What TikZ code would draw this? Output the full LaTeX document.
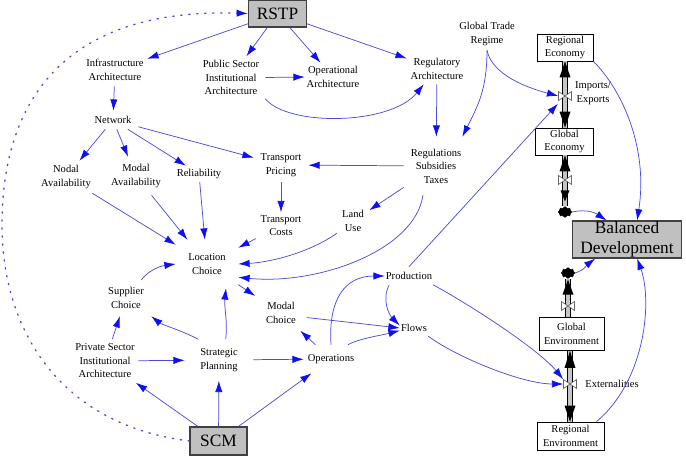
\documentclass[tikz,border=0pt]{standalone}
\usepackage{fontspec}
\setmainfont{Liberation Serif}
\usetikzlibrary{arrows.meta,calc,shapes.symbols}
\definecolor{lnblue}{RGB}{75,75,225}
\definecolor{tipblue}{RGB}{15,15,245}
\definecolor{boxgray}{RGB}{192,192,192}
\newcommand\txtfont{\fontsize{7.9pt}{10.1pt}\selectfont}
\newcommand\bigfont{\fontsize{13pt}{15pt}\selectfont}
\newcommand\drawvalve[1]{\draw[black!60,fill=white,line width=0.5pt] ($(#1)+(-6.5,-4.5)$) -- ($(#1)+(6.5,4.5)$) -- ($(#1)+(6.5,-4.5)$) -- ($(#1)+(-6.5,4.5)$) -- cycle;}
\begin{document}
\begin{tikzpicture}[x=0.75pt,y=-0.75pt,
  txt/.style={align=center,inner sep=0pt,font=\txtfont},
  arr/.style={draw=lnblue,line width=0.55pt,-{Latex[length=8.5pt,width=5.5pt,color=tipblue]}},
  stockbox/.style={draw=black,line width=0.6pt,fill=white,align=center,inner sep=0pt,font=\txtfont},
  bigbox/.style={draw=black!75,line width=0.8pt,fill=boxgray,align=center,inner sep=0pt,font=\bigfont},
  pipe/.style={draw=black,line width=0.6pt,double=gray!45,double distance=3pt},
  valvenode/.style={inner sep=0pt,minimum width=9.75pt,minimum height=6.75pt},
  cloudnode/.style={cloud,cloud puffs=8,fill=black,draw=black,minimum width=10pt,minimum height=8pt,inner sep=0pt}
]
\fill[white] (0,0) rectangle (686,460);
\useasboundingbox (0,0) rectangle (686,460);

% big boxes
\node[bigbox,minimum width=43.5pt,minimum height=20.25pt] (rstp) at (277.5,13.5) {RSTP};
\node[bigbox,minimum width=42.75pt,minimum height=21pt] (scm) at (218.5,441) {SCM};
\node[bigbox,minimum width=81.75pt,minimum height=27.75pt] (bal) at (627,239.5) {Balanced\\Development};

% stocks
\node[stockbox,minimum width=42pt,minimum height=20.25pt] (regecon) at (565,47.5) {Regional\\Economy};
\node[stockbox,minimum width=43.5pt,minimum height=20.25pt] (globecon) at (564.5,141.5) {Global\\Economy};
\node[stockbox,minimum width=48.75pt,minimum height=24.75pt] (globenv) at (571.5,334) {Global\\Environment};
\node[stockbox,minimum width=50.25pt,minimum height=21pt] (regenv) at (570.5,436) {Regional\\Environment};

% valves and clouds
\node[valvenode] (vimp) at (565,96) {};
\node[valvenode] (vge) at (565,180) {};
\node[valvenode] (vgenv) at (568,306) {};
\node[valvenode] (vext) at (570,384) {};
\node[cloudnode] (cl1) at (565,212) {};
\node[cloudnode] (cl2) at (568,273) {};

% text variables
\node[txt,minimum width=48pt,minimum height=24pt] (infra) at (115,70) {Infrastructure\\Architecture};
\node[txt,minimum width=51pt,minimum height=31.5pt] (pubsec) at (231,77.5) {Public Sector\\Institutional\\Architecture};
\node[txt,minimum width=42pt,minimum height=21pt] (oparch) at (333,77) {Operational\\Architecture};
\node[txt,minimum width=45pt,minimum height=22.5pt] (regarch) at (437,69) {Regulatory\\Architecture};
\node[txt,minimum width=45pt,minimum height=24pt] (gtr) at (487,34) {Global Trade\\Regime};
\node[txt,minimum width=37.5pt,minimum height=13.5pt] (network) at (113,120) {Network};
\node[txt,minimum width=49.5pt,minimum height=24pt] (nodal) at (66,177) {Nodal\\Availability};
\node[txt,minimum width=45pt,minimum height=28.5pt] (modalav) at (136,176) {Modal\\Availability};
\node[txt,minimum width=39pt,minimum height=12pt] (rel) at (199,174) {Reliability};
\node[txt,minimum width=40.5pt,minimum height=25.5pt] (tpricing) at (281,165) {Transport\\Pricing};
\node[txt,minimum width=48pt,minimum height=43.5pt] (regs) at (436,166) {Regulations\\Subsidies\\Taxes};
\node[txt,minimum width=37.5pt,minimum height=19.5pt] (tcosts) at (281,225.5) {Transport\\Costs};
\node[txt,minimum width=24pt,minimum height=18pt] (land) at (353,221) {Land\\Use};
\node[txt,minimum width=46.5pt,minimum height=36pt] (loc) at (207,264) {Location\\Choice};
\node[txt,minimum width=37.5pt,minimum height=27pt] (supp) at (126,298) {Supplier\\Choice};
\node[txt,minimum width=38.25pt,minimum height=26.25pt] (modal) at (281,313) {Modal\\Choice};
\node[txt,minimum width=36pt,minimum height=13.5pt] (prod) at (409,276) {Production};
\node[txt,minimum width=21pt,minimum height=15pt] (flows) at (414,328) {Flows};
\node[txt,minimum width=49.5pt,minimum height=32.25pt] (priv) at (105,361) {Private Sector\\Institutional\\Architecture};
\node[txt,minimum width=51pt,minimum height=30.75pt] (strat) at (219,360) {Strategic\\Planning};
\node[txt,minimum width=40.5pt,minimum height=21pt] (ops) at (331,359) {Operations};
\node[txt] (impexp) at (593,93) {Imports/\\Exports};
\node[txt] (extlab) at (612,384) {Externalities};

% pipes
\draw[pipe] (regecon.south -| vimp) -- (globecon.north -| vimp);
\draw[pipe] (globecon.south -| vge) -- (cl1.north);
\draw[pipe] (cl2.south) -- (cl2.south |- globenv.north);
\draw[pipe] (vext |- globenv.south) -- (vext |- regenv.north);
\fill (regecon.south -| vimp) -- ++(-5.5,16) -- ++(11,0) -- cycle;
\fill (globecon.north -| vimp) -- ++(-5.5,-16) -- ++(11,0) -- cycle;
\fill (globecon.south -| vge) -- ++(-5.5,16) -- ++(11,0) -- cycle;
\fill ($(cl1.north)+(0,-5)$) -- ++(-4.5,-11) -- ++(9,0) -- cycle;
\fill ($(cl2.south)+(0,1)$) -- ++(-5.5,15) -- ++(11,0) -- cycle;
\fill (vext |- globenv.south) -- ++(-5.5,17) -- ++(11,0) -- cycle;
\fill (vext |- regenv.north) -- ++(-5.5,-16) -- ++(11,0) -- cycle;
\drawvalve{vimp}
\drawvalve{vge}
\drawvalve{vgenv}
\drawvalve{vext}

% connectors
\draw[arr] (rstp) -- (infra);
\draw[arr] (rstp) -- (pubsec);
\draw[arr] (rstp) -- (oparch);
\draw[arr] (rstp) -- (regarch);
\draw[arr] (pubsec.east) -- (oparch.west);
\draw[arr] (pubsec.south east) .. controls +(23,28) and +(-33,41) .. (regarch.229);
\draw[arr] (infra) -- (network);
\draw[arr] (network) -- (nodal);
\draw[arr] (network) -- (modalav);
\draw[arr] (network) -- (rel);
\draw[arr] (network) -- (tpricing);
\draw[arr] (regarch) -- (regs);
\draw[arr] (gtr.south) .. controls +(0,40) and +(15,-30) .. (regs.48);
\draw[arr] (gtr.south) .. controls +(5,25) and +(-30,-8) .. (vimp.west);
\draw[arr] (regs) -- (tpricing);
\draw[arr] (regs) -- (land);
\draw[arr] (regs.246) .. controls +(-8,55) and +(80,8) .. (loc.-23);
\draw[arr] (land.south west) .. controls +(-25,18) and +(35,-2) .. (loc.east);
\draw[arr] (tpricing) -- (tcosts);
\draw[arr] (tcosts) -- (loc);
\draw[arr] (nodal) -- (loc);
\draw[arr] (modalav) -- (loc);
\draw[arr] (rel) -- (loc);
\draw[arr] (loc) -- (modal);
\draw[arr] (supp.50) .. controls +(8,-10) and +(-15,2) .. (loc.west);
\draw[arr] (strat.135) .. controls +(-15,-8) and +(10,8) .. (supp.south east);
\draw[arr] (strat.72) .. controls +(2,-20) and +(-2,20) .. (loc.-52);
\draw[arr] (priv) -- (supp);
\draw[arr] (priv) -- (strat);
\draw[arr] (strat) -- (ops);
\draw[arr] (scm) -- (priv);
\draw[arr] (scm) -- (strat);
\draw[arr] (scm) -- (ops);
\draw[arr] (ops) -- (modal);
\draw[arr] (ops.north) .. controls +(-3,-45) and +(-40,0) .. (prod.west);
\draw[arr] (ops.40) .. controls +(10,-6) and +(-15,4) .. (flows.-170);
\draw[arr] (modal.-10) -- (flows.west);
\draw[arr] (prod.-155) .. controls +(-8,15) and +(-10,-10) .. (flows.170);
\draw[arr,shorten >=3pt] (prod.north) -- (vimp);
\draw[arr] (prod.-20) .. controls +(40,22) and +(-25,-30) .. (vext.north west);
\draw[arr] (flows.-30) .. controls +(30,22) and +(-40,0) .. (vext.west);
\draw[arr] (cl1.east) .. controls +(15,-3) and +(-12,-8) .. (bal.137);
\draw[arr] (regecon.south east) .. controls +(30,30) and +(11,-71) .. (bal.62);
\draw[arr] (cl2.east) .. controls +(10,-3) and +(-8,6) .. (bal.211);
\draw[arr] (regenv.29) .. controls +(50,-42) and +(15,41) .. (bal.-62);

% dotted arc SCM -> RSTP
\coordinate (arcmid) at (2,222);
\draw[lnblue,line width=1pt,dash pattern=on 1pt off 5pt,line cap=round,-{Latex[length=8.5pt,width=5.5pt,color=tipblue]}] (scm.west) .. controls (60,425) and (1,330) .. (arcmid) .. controls (3,95) and (70,8) .. (rstp.west);
\end{tikzpicture}
\end{document}
